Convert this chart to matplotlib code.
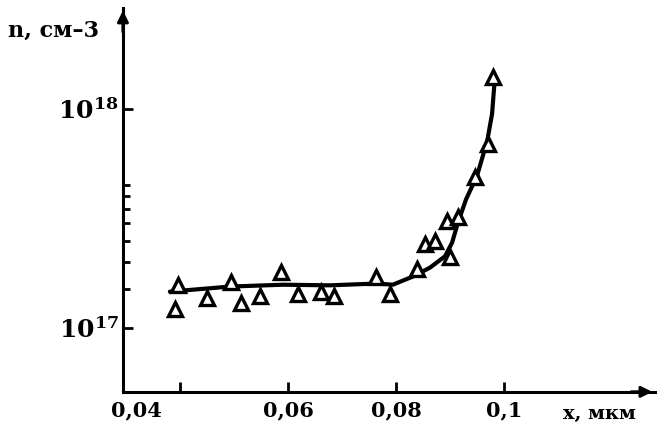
"""Carrier concentration profile n(x) on a log scale."""
import matplotlib
matplotlib.use("Agg")
import matplotlib.pyplot as plt
from matplotlib.ticker import FixedLocator, NullFormatter
from matplotlib.transforms import ScaledTranslation

plt.rcParams["font.family"] = "DejaVu Serif"
plt.rcParams["mathtext.fontset"] = "dejavuserif"

# measured points: depth (um) and concentration (cm^-3)
x_meas = [0.0396, 0.0391, 0.0450, 0.0494, 0.0513, 0.0548, 0.0587, 0.0619,
          0.0661, 0.0685, 0.0763, 0.0789, 0.0839, 0.0854, 0.0872, 0.0900,
          0.0894, 0.0915, 0.0946, 0.0970, 0.0980]
n_meas = [1.57e17, 1.21e17, 1.36e17, 1.61e17, 1.30e17, 1.40e17, 1.79e17,
          1.42e17, 1.46e17, 1.40e17, 1.71e17, 1.42e17, 1.85e17, 2.40e17,
          2.48e17, 2.10e17, 3.06e17, 3.20e17, 4.88e17, 6.91e17, 1.40e18]

# fitted profile
x_fit = [0.0381, 0.0493, 0.0591, 0.0678, 0.0765, 0.0794, 0.0831, 0.0863,
         0.0891, 0.0904, 0.0915, 0.0930, 0.0950, 0.0969, 0.0978, 0.0983]
n_fit = [1.46e17, 1.54e17, 1.57e17, 1.56e17, 1.59e17, 1.57e17, 1.71e17,
         1.88e17, 2.12e17, 2.45e17, 3.03e17, 3.87e17, 4.93e17, 7.13e17,
         9.49e17, 1.37e18]

x_ticks = [0.04, 0.06, 0.08, 0.1]
x_ticklabels = ["0,04", "0,06", "0,08", "0,1"]
y_ticks = [1e17, 1e18]
y_ticklabels = [r"$\mathbf{10^{17}}$", r"$\mathbf{10^{18}}$"]
y_minor = [1.5e17, 2e17, 2.5e17, 3e17, 3.5e17, 4e17, 4.5e17]

fig = plt.figure(figsize=(6.61, 4.33), dpi=100)
ax = fig.add_axes([0.186, 0.095, 0.805, 0.887])

ax.plot(x_fit, n_fit, color="black", lw=3, solid_capstyle="round",
        solid_joinstyle="round", zorder=2)
ax.plot(x_meas, n_meas, linestyle="none", marker="^", ms=10, mew=2.4,
        mfc="white", mec="black", zorder=3)

ax.set_yscale("log")
ax.set_xlim(0.0294, 0.128)
ax.set_ylim(5.08e16, 2.9e18)

ax.set_xticks(x_ticks)
ax.set_xticklabels(x_ticklabels, fontsize=15, fontweight="bold")
ax.set_yticks(y_ticks)
ax.set_yticklabels(y_ticklabels, fontsize=18)
ax.yaxis.set_minor_locator(FixedLocator(y_minor))
ax.yaxis.set_minor_formatter(NullFormatter())
ax.xaxis.set_minor_locator(FixedLocator([]))

ax.tick_params(axis="both", which="major", direction="in", length=7,
               width=2, pad=6)
ax.tick_params(axis="y", which="major", pad=3)
ax.tick_params(axis="y", which="minor", direction="in", length=5, width=2)

# the first x label sits under the origin
lab = ax.get_xticklabels()[0]
lab.set_transform(lab.get_transform()
                  + ScaledTranslation(-0.44, 0, fig.dpi_scale_trans))

for side in ("top", "right"):
    ax.spines[side].set_visible(False)
for side in ("left", "bottom"):
    ax.spines[side].set_linewidth(2.2)

# axis arrows
ax.annotate("", xy=(0, 1.0), xytext=(0, 0.93), xycoords="axes fraction",
            arrowprops=dict(arrowstyle="-|>", color="black", lw=2.2,
                            mutation_scale=16))
ax.annotate("", xy=(1.0, 0), xytext=(0.95, 0), xycoords="axes fraction",
            arrowprops=dict(arrowstyle="-|>", color="black", lw=2.2,
                            mutation_scale=16))

fig.text(8 / 661, 1 - 31 / 433, "n, см–3", fontsize=16, fontweight="bold",
         ha="left", va="center")
fig.text(563 / 661, 1 - 414 / 433, "x, мкм", fontsize=14, fontweight="bold",
         ha="left", va="center")

fig.savefig("out.png", dpi=100)
